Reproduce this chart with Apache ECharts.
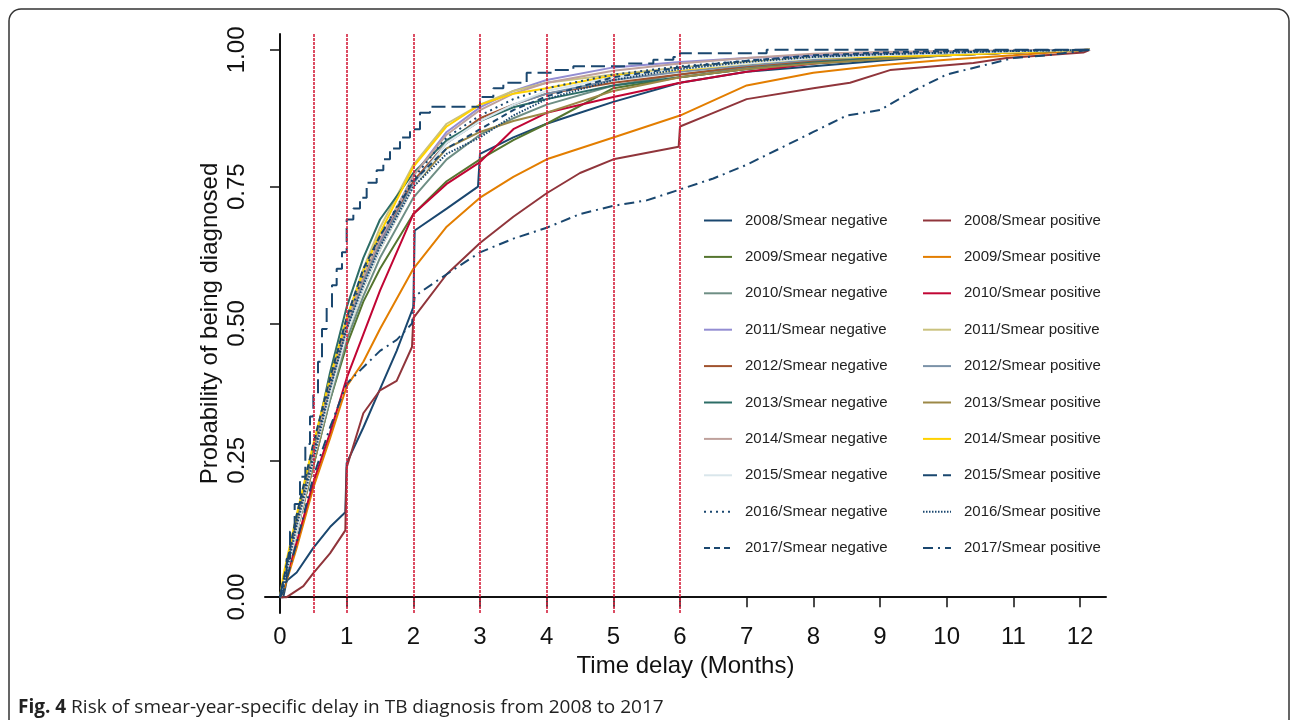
<!DOCTYPE html>
<html lang="en">
<head>
  <meta charset="UTF-8">
  <title>Fig. 4</title>
  <script src="https://cdn.jsdelivr.net/npm/echarts@6/dist/echarts.min.js"></script>
  <style>
    html, body { margin: 0; padding: 0; background: #fff; }
    #main { width: 1292px; height: 720px; }
  </style>
</head>
<body>
<div id="main"></div>
<script type="text/javascript">
  // time points (months) shared by the bundled curves
  var times = [0, 0.05, 0.25, 0.5, 0.75, 1, 1.25, 1.5, 2, 2.5, 3, 3.5, 4, 5, 6, 7, 8, 9, 10, 11, 12.15];

  var neg2009 = [0, 0.02, 0.12, 0.24, 0.36, 0.46, 0.54, 0.60, 0.70, 0.76, 0.80, 0.835, 0.865, 0.93, 0.95, 0.965, 0.975, 0.983, 0.99, 0.995, 1];
  var neg2010 = [0, 0.02, 0.12, 0.24, 0.36, 0.47, 0.55, 0.62, 0.73, 0.80, 0.845, 0.875, 0.90, 0.935, 0.955, 0.968, 0.978, 0.985, 0.99, 0.995, 1];
  var neg2011 = [0, 0.03, 0.13, 0.26, 0.39, 0.50, 0.585, 0.65, 0.77, 0.85, 0.895, 0.925, 0.945, 0.968, 0.978, 0.985, 0.99, 0.993, 0.996, 0.998, 1];
  var neg2012 = [0, 0.03, 0.13, 0.26, 0.39, 0.50, 0.58, 0.645, 0.76, 0.83, 0.875, 0.90, 0.92, 0.94, 0.955, 0.97, 0.98, 0.987, 0.992, 0.996, 1];
  var neg2013 = [0, 0.03, 0.14, 0.27, 0.41, 0.53, 0.62, 0.69, 0.775, 0.835, 0.87, 0.895, 0.91, 0.935, 0.95, 0.965, 0.977, 0.985, 0.99, 0.995, 1];
  var neg2014 = [0, 0.03, 0.13, 0.26, 0.39, 0.50, 0.585, 0.655, 0.77, 0.845, 0.89, 0.92, 0.94, 0.962, 0.975, 0.985, 0.993, 0.996, 0.998, 0.999, 1];
  var neg2015 = [0, 0.02, 0.12, 0.25, 0.37, 0.48, 0.565, 0.635, 0.75, 0.83, 0.87, 0.90, 0.925, 0.95, 0.965, 0.975, 0.985, 0.99, 0.994, 0.997, 1];
  var neg2016 = [0, 0.03, 0.14, 0.26, 0.39, 0.50, 0.59, 0.66, 0.765, 0.84, 0.88, 0.91, 0.93, 0.955, 0.97, 0.98, 0.988, 0.992, 0.995, 0.998, 1];
  var neg2017 = [0, 0.03, 0.15, 0.28, 0.40, 0.51, 0.60, 0.66, 0.76, 0.82, 0.855, 0.89, 0.915, 0.95, 0.968, 0.98, 0.99, 0.995, 0.998, 0.999, 1];
  var pos2009 = [0, 0.01, 0.09, 0.20, 0.29, 0.385, 0.43, 0.49, 0.60, 0.677, 0.73, 0.768, 0.80, 0.84, 0.88, 0.935, 0.958, 0.972, 0.982, 0.99, 1];
  var pos2010 = [0, 0.02, 0.10, 0.21, 0.30, 0.40, 0.48, 0.56, 0.70, 0.755, 0.795, 0.855, 0.885, 0.914, 0.94, 0.96, 0.975, 0.985, 0.99, 0.995, 1];
  var pos2011 = [0, 0.03, 0.13, 0.26, 0.39, 0.51, 0.60, 0.675, 0.79, 0.865, 0.90, 0.925, 0.94, 0.955, 0.968, 0.978, 0.985, 0.99, 0.994, 0.997, 1];
  var pos2012 = [0, 0.03, 0.13, 0.25, 0.38, 0.49, 0.575, 0.645, 0.755, 0.83, 0.87, 0.90, 0.92, 0.945, 0.96, 0.972, 0.982, 0.988, 0.993, 0.997, 1];
  var pos2013 = [0, 0.02, 0.12, 0.24, 0.37, 0.48, 0.565, 0.635, 0.75, 0.82, 0.85, 0.87, 0.885, 0.925, 0.95, 0.965, 0.975, 0.983, 0.99, 0.995, 1];
  var pos2014 = [0, 0.04, 0.15, 0.28, 0.40, 0.51, 0.595, 0.665, 0.786, 0.86, 0.90, 0.92, 0.93, 0.953, 0.963, 0.975, 0.985, 0.988, 0.99, 0.995, 1];
  var pos2016 = [0, 0.02, 0.13, 0.25, 0.38, 0.49, 0.57, 0.64, 0.75, 0.81, 0.84, 0.88, 0.91, 0.945, 0.965, 0.978, 0.987, 0.992, 0.995, 0.998, 1];

  // curves with visible jumps, as [month, probability]
  var neg2008 = [[0, 0], [0.05, 0], [0.1, 0.03], [0.25, 0.045], [0.5, 0.09], [0.75, 0.128], [0.98, 0.155], [1.0, 0.245],
    [1.25, 0.31], [1.5, 0.38], [1.75, 0.45], [2.0, 0.53], [2.02, 0.67], [2.5, 0.71], [2.97, 0.75], [3.0, 0.81],
    [3.5, 0.84], [4.0, 0.865], [4.5, 0.885], [5, 0.905], [6, 0.94], [7, 0.96], [8, 0.97], [9, 0.98], [10, 0.99], [11, 0.995], [12.15, 1]];
  var pos2008 = [[0, 0], [0.1, 0], [0.35, 0.02], [0.5, 0.044], [0.75, 0.08], [0.98, 0.122], [1.0, 0.237], [1.25, 0.336],
    [1.5, 0.378], [1.75, 0.395], [1.98, 0.457], [2.0, 0.51], [2.5, 0.59], [3, 0.647], [3.5, 0.695], [4, 0.738],
    [4.5, 0.775], [5, 0.80], [5.98, 0.823], [6.0, 0.86], [6.5, 0.885], [7, 0.91], [8, 0.93], [8.55, 0.94], [9.15, 0.963],
    [10.4, 0.976], [10.9, 0.985], [12.05, 0.995], [12.15, 1]];
  var pos2015 = [[0, 0], [0.03, 0.02], [0.1, 0.07], [0.15, 0.12], [0.22, 0.17], [0.3, 0.22], [0.38, 0.28], [0.45, 0.33],
    [0.5, 0.37], [0.57, 0.43], [0.63, 0.49], [0.7, 0.53], [0.78, 0.57], [0.85, 0.6], [0.93, 0.63], [1.0, 0.69],
    [1.1, 0.71], [1.2, 0.73], [1.3, 0.757], [1.45, 0.78], [1.55, 0.80], [1.65, 0.82], [1.8, 0.84], [1.95, 0.855],
    [2.1, 0.885], [2.25, 0.896], [3.0, 0.914], [3.2, 0.93], [3.35, 0.94], [3.7, 0.958], [4.1, 0.963], [4.4, 0.97],
    [5.2, 0.975], [5.6, 0.982], [5.9, 0.987], [6.0, 0.994], [7.3, 1.0], [12.15, 1.0]];
  var pos2017 = [[0, 0], [0.05, 0.01], [0.25, 0.10], [0.5, 0.22], [0.75, 0.31], [1.0, 0.39], [1.25, 0.42], [1.5, 0.45],
    [1.75, 0.47], [1.98, 0.50], [2.02, 0.55], [2.5, 0.59], [3, 0.63], [3.5, 0.655], [4, 0.675], [4.5, 0.70], [5, 0.715],
    [5.5, 0.725], [6, 0.745], [6.5, 0.765], [7, 0.79], [7.5, 0.82], [8, 0.85], [8.5, 0.88], [9, 0.89], [9.5, 0.925],
    [10, 0.955], [10.5, 0.97], [11, 0.985], [11.5, 0.99], [12.15, 1.0]];

  var refLines = [0.5, 1, 2, 3, 4, 5, 6];
  var xTicks = [0, 1, 2, 3, 4, 5, 6, 7, 8, 9, 10, 11, 12];
  var yTicks = [0, 0.25, 0.5, 0.75, 1];

  function zip(vals) {
    return vals.map(function (v, i) { return [times[i], v]; });
  }

  var NAVY = '#1a476f';
  // [name, data, color, dash]
  var defs = [
    ['2008/Smear negative', neg2008, NAVY, 'solid'],
    ['2008/Smear positive', pos2008, '#90353b', 'solid'],
    ['2009/Smear negative', zip(neg2009), '#55752f', 'solid'],
    ['2009/Smear positive', zip(pos2009), '#e37e00', 'solid'],
    ['2010/Smear negative', zip(neg2010), '#6e8e84', 'solid'],
    ['2010/Smear positive', zip(pos2010), '#c10534', 'solid'],
    ['2011/Smear negative', zip(neg2011), '#938dd2', 'solid'],
    ['2011/Smear positive', zip(pos2011), '#cac27e', 'solid'],
    ['2012/Smear negative', zip(neg2012), '#a0522d', 'solid'],
    ['2012/Smear positive', zip(pos2012), '#7b92a8', 'solid'],
    ['2013/Smear negative', zip(neg2013), '#2d6d66', 'solid'],
    ['2013/Smear positive', zip(pos2013), '#9c8847', 'solid'],
    ['2014/Smear negative', zip(neg2014), '#bfa19c', 'solid'],
    ['2014/Smear positive', zip(pos2014), '#ffd200', 'solid'],
    ['2015/Smear negative', zip(neg2015), '#d9e6eb', 'solid'],
    ['2015/Smear positive', pos2015, NAVY, [14, 6]],
    ['2016/Smear negative', zip(neg2016), NAVY, [2, 4]],
    ['2016/Smear positive', zip(pos2016), NAVY, [1.5, 1.5]],
    ['2017/Smear negative', zip(neg2017), NAVY, [6, 4]],
    ['2017/Smear positive', pos2017, NAVY, [10, 5, 2, 5]]
  ];

  var series = defs.map(function (d) {
    return {
      name: d[0],
      type: 'line',
      data: d[1],
      step: d[0] === '2015/Smear positive' ? 'end' : false,
      symbol: 'none',
      showSymbol: false,
      animation: false,
      lineStyle: { color: d[2], width: 2, type: d[3] },
      // transparent so the legend shows only the line sample
      itemStyle: { color: 'rgba(0,0,0,0)', borderWidth: 0 }
    };
  });

  // red dotted reference lines
  series.push({
    type: 'line',
    data: [],
    silent: true,
    markLine: {
      symbol: 'none',
      silent: true,
      label: { show: false },
      lineStyle: { color: '#d4213d', width: 1.6, type: [3, 1] },
      data: refLines.map(function (v) { return { xAxis: v }; })
    }
  });

  var negNames = defs.filter(function (d, i) { return i % 2 === 0; }).map(function (d) { return d[0]; });
  var posNames = defs.filter(function (d, i) { return i % 2 === 1; }).map(function (d) { return d[0]; });

  var legendBase = {
    orient: 'vertical',
    top: 213,
    padding: 0,
    itemWidth: 28,
    itemHeight: 14,
    itemGap: 21.4,
    selectedMode: false,
    itemStyle: { opacity: 0 },
    textStyle: { fontSize: 15, color: '#222', fontFamily: 'Liberation Sans', padding: [0, 0, 0, 8], lineHeight: 14 }
  };

  var myChart = echarts.init(document.getElementById('main'));
  myChart.setOption({
    animation: false,
    textStyle: { fontFamily: 'Liberation Sans' },
    grid: { left: 265, right: 186, top: 34, bottom: 107 },
    legend: [
      Object.assign({}, legendBase, { left: 703, data: negNames }),
      Object.assign({}, legendBase, { left: 922, data: posNames })
    ],
    xAxis: {
      type: 'value',
      min: -0.225,
      max: 12.39,
      name: 'Time delay (Months)',
      nameLocation: 'middle',
      nameGap: 34,
      nameTextStyle: { fontSize: 24, color: '#111' },
      axisLine: { lineStyle: { color: '#111', width: 2 } },
      axisTick: { show: true, length: 10, customValues: xTicks, lineStyle: { color: '#111', width: 1.5 } },
      axisLabel: { customValues: xTicks, fontSize: 24, color: '#111', margin: 12 },
      splitLine: { show: false }
    },
    yAxis: {
      type: 'value',
      min: -0.029,
      max: 1.029,
      name: 'Probability of being diagnosed',
      nameLocation: 'middle',
      nameGap: 43,
      nameMoveOverlap: false,
      nameRotate: 90,
      nameTextStyle: { fontSize: 24, color: '#111' },
      axisLine: { show: true, lineStyle: { color: '#111', width: 2 } },
      axisTick: { show: true, length: 10, customValues: yTicks, lineStyle: { color: '#111', width: 1.5 } },
      axisLabel: {
        customValues: yTicks, fontSize: 24, color: '#111', rotate: 90, margin: 16,
        formatter: function (v) { return v.toFixed(2); }
      },
      splitLine: { show: false }
    },
    graphic: [
      {
        type: 'rect',
        shape: { x: 9, y: 9, width: 1280, height: 760, r: 12 },
        style: { fill: 'none', stroke: '#333', lineWidth: 1.5 },
        silent: true
      },
      {
        type: 'text',
        left: 18,
        top: 698,
        style: {
          text: '{b|Fig. 4} Risk of smear-year-specific delay in TB diagnosis from 2008 to 2017',
          font: '19px "Open Sans"',
          fill: '#222',
          rich: { b: { fontWeight: 'bold', fontSize: 19, fontFamily: 'Open Sans', fill: '#222' } }
        }
      }
    ],
    series: series
  });
</script>
</body>
</html>
